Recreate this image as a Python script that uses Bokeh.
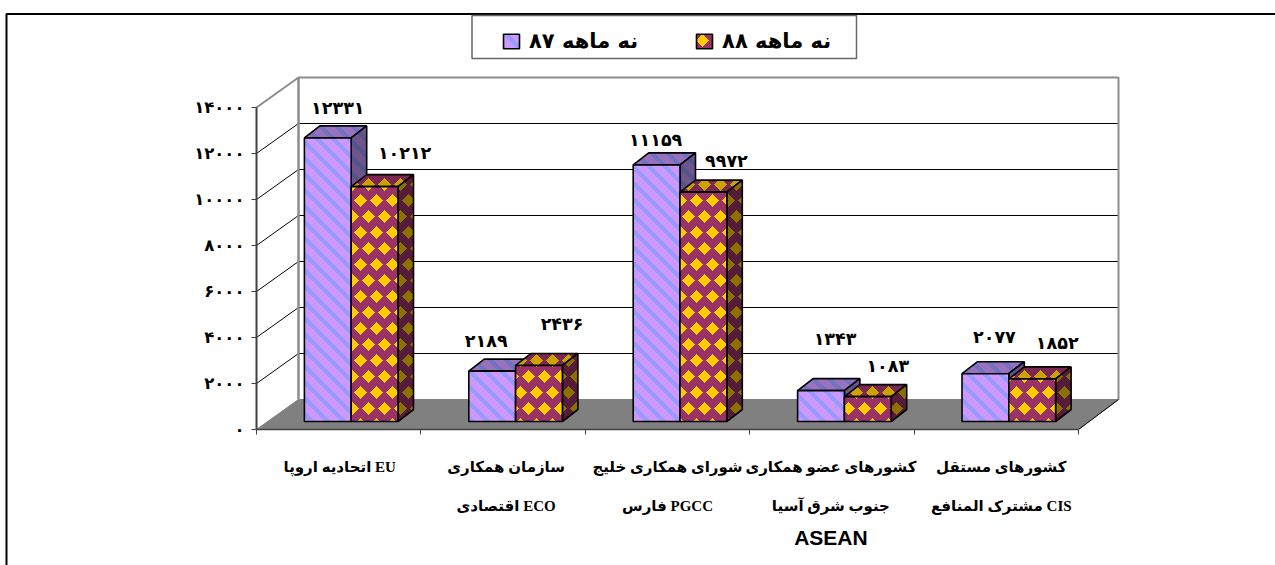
import base64, struct, zlib
from bokeh.core.properties import value
from bokeh.embed import file_html
from bokeh.models import (ColumnDataSource, FixedTicker, ImageURLTexture, Legend,
                          LegendItem, Range1d)
from bokeh.plotting import figure
from bokeh.resources import INLINE

# ---- data ----
categories = [
    ["\u200fاتحادیه اروپا EU"],
    ["\u200fسازمان همکاری", "\u200fاقتصادی ECO"],
    ["\u200fشورای همکاری خلیج", "\u200fفارس PGCC"],
    ["\u200fکشورهای عضو همکاری", "\u200fجنوب شرق آسیا", "ASEAN"],
    ["\u200fکشورهای مستقل", "\u200fمشترک المنافع CIS"],
]
series_87 = [12331, 2189, 11159, 1343, 2077]
series_88 = [10212, 2436, 9972, 1083, 1852]
series_names = ["\u200fنه ماهه ۸۷", "\u200fنه ماهه ۸۸"]
y_ticks = [0, 2000, 4000, 6000, 8000, 10000, 12000, 14000]
y_max = 14000

# ---- layout constants (px on the page) ----
W, H = 1275, 565
X0, CAT = 256.0, 164.4          # category axis origin and step
Y0, UNIT = 429.0, 0.023         # value axis origin and px per unit
WALL_DX, WALL_DX_R, WALL_DY = 42.0, 40.0, 30.0   # depth of the chart box
BAR_DX, BAR_DY = 15.5, 12.0     # depth of a bar
BAR_W, BAR_SHIFT, BAR_LIFT = 46.8, 12.5, 8.0   # width, x shift, base lift
LABEL_NUDGE_87 = [(10, 30), (-6, 30), (-1, 25), (14, 52), (9, 37)]
LABEL_NUDGE_88 = [(30, 34), (23, 41), (23, 31), (20, 31), (25, 36)]
CAT_NUDGE = [3, 5, 2, 1, 7]

to_x = lambda px: (px - X0) / CAT
to_y = lambda py: (Y0 - py) / UNIT
dxc = lambda px: px / CAT
dyv = lambda px: px / UNIT


def png_uri(w, h, pixel):
    raw = b""
    for j in range(h):
        raw += b"\0" + bytes(c for i in range(w) for c in pixel(i, j))
    def chunk(t, d):
        return struct.pack(">I", len(d)) + t + d + struct.pack(">I", zlib.crc32(t + d))
    png = (b"\x89PNG\r\n\x1a\n" + chunk(b"IHDR", struct.pack(">IIBBBBB", w, h, 8, 2, 0, 0, 0))
           + chunk(b"IDAT", zlib.compress(raw)) + chunk(b"IEND", b""))
    return "data:image/png;base64," + base64.b64encode(png).decode()


def shade(c, f):
    return tuple(int(v * f) for v in c)


def stripes(i, j, f=1.0):
    return shade((153, 153, 255) if (i - j) % 16 < 6 else (204, 153, 255), f)


def diamonds(i, j, f=1.0):
    d1 = abs(i - 8) + abs(j - 8)            # diamond on rows of first half
    d2 = min(i, 16 - i) + abs(j - 24)       # offset diamond on second half
    return shade((255, 204, 0) if min(d1, d2) <= 6 else (153, 51, 102), f)


def tex(fn, h, f=1.0):
    return ImageURLTexture(url=png_uri(16, h, lambda i, j: fn(i, j, f)))


TEX = {"ps": tex(stripes, 16), "pst": tex(stripes, 16, 0.75), "pss": tex(stripes, 16, 0.55),
       "pd": tex(diamonds, 32), "pdt": tex(diamonds, 32, 0.8), "pds": tex(diamonds, 32, 0.55)}

FONT = "Liberation Serif, DejaVu Sans"

p = figure(width=W, height=H, x_range=Range1d(to_x(0), to_x(W)), y_range=Range1d(to_y(H), to_y(0)),
           min_border=0, toolbar_location=None, output_backend="svg", outline_line_color=None,
           background_fill_color="white", border_fill_color="white")
p.xgrid.visible = False
p.ygrid.visible = False

# outer frame
p.line([to_x(6), to_x(6), to_x(W)], [to_y(H), to_y(13.5), to_y(13.5)], line_color="#000000", line_width=2)

# back wall, floor, side wall
bx0, bx1 = 0 + dxc(WALL_DX), 5 + dxc(WALL_DX_R)
lift = dyv(WALL_DY)
p.patch([0, 5, bx1, bx0], [0, 0, lift, lift], fill_color="#808080", line_color="#808080")
for t in y_ticks[1:-1]:
    p.line([0, bx0, bx1], [t, t + lift, t + lift], line_color="#000000", line_width=1)
p.line([0, bx0, bx1, bx1], [y_max, y_max + lift, y_max + lift, lift], line_color="#8c8c8c", line_width=2)
p.line([bx0, bx0], [lift, y_max + lift], line_color="#8c8c8c", line_width=2.5)
p.line([bx1, 5], [lift, 0], line_color="#000000", line_width=1)

# axes through the library's own ticks
p.yaxis.fixed_location = 0
p.yaxis.bounds = (0, y_max)
p.yaxis.ticker = FixedTicker(ticks=y_ticks)
p.yaxis.major_label_overrides = {
    t: "".join("۰۱۲۳۴۵۶۷۸۹"[int(c)] for c in str(t)) for t in y_ticks}
p.yaxis.major_label_text_font = "DejaVu Sans"
p.yaxis.major_label_text_font_style = "bold"
p.yaxis.major_label_text_font_size = "16.5px"
p.yaxis.major_label_text_color = "#000000"
p.yaxis.axis_line_color = "#404040"
p.yaxis.axis_line_width = 2
p.yaxis.major_tick_line_color = "#404040"
p.yaxis.major_tick_out = 5
p.yaxis.major_tick_in = 0
p.yaxis.minor_tick_line_color = None
p.yaxis.major_label_standoff = 7

p.xaxis.fixed_location = 0
p.xaxis.bounds = (0, 5)
p.xaxis.ticker = FixedTicker(ticks=list(range(6)))
p.xaxis.major_label_text_font_size = "0px"
p.xaxis.major_label_text_color = None
p.xaxis.axis_line_color = "#404040"
p.xaxis.axis_line_width = 1.5
p.xaxis.major_tick_line_color = "#404040"
p.xaxis.major_tick_out = 5
p.xaxis.major_tick_in = 0
p.xaxis.minor_tick_line_color = None

# 3-D bars
base = dyv(BAR_LIFT)
W_C = dxc(BAR_W)
DXC, DYV = dxc(BAR_DX), dyv(BAR_DY)
renderers = []
labels = {"x": [], "y": [], "t": []}
for s, (vals, face, top, side, nudge) in enumerate([
        (series_87, "ps", "pst", "pss", LABEL_NUDGE_87),
        (series_88, "pd", "pdt", "pds", LABEL_NUDGE_88)]):
    rend = None
    for c, v in enumerate(vals):
        xc = c + 0.5 + dxc(BAR_SHIFT)
        left = xc - W_C + s * W_C
        right = left + W_C
        y0, y1 = base, base + v
        sty = dict(line_color="#000000", line_width=1.6, hatch_extra=TEX, hatch_alpha=1.0)
        p.patch([left + DXC, right + DXC, right, left], [y1 + DYV, y1 + DYV, y1, y1],
                fill_color="#996699", hatch_pattern=top, **sty)
        p.patch([right, right + DXC, right + DXC, right], [y0, y0 + DYV, y1 + DYV, y1],
                fill_color="#664477", hatch_pattern=side, **sty)
        src = ColumnDataSource(dict(l=[left], r=[right], b=[y0], t=[y1]))
        r = p.quad(left="l", right="r", bottom="b", top="t", source=src, fill_color="#cc99ff",
                   hatch_pattern=value(face), **sty)
        rend = rend or r
        dx, dy = nudge[c]
        labels["x"].append((left + right) / 2 + dxc(dx))
        labels["y"].append(y1 + dyv(dy))
        labels["t"].append("".join("۰۱۲۳۴۵۶۷۸۹"[int(ch)] for ch in str(v)))
    renderers.append(rend)

p.text("x", "y", text="t", source=ColumnDataSource(labels), text_align="center", text_baseline="middle",
       text_font=value("DejaVu Sans"), text_font_style="bold", text_font_size="17.5px", text_color="#000000")

# category labels
cx, cy, ct, cf, cs = [], [], [], [], []
line_y = [466, 505, 537]
for c, lines in enumerate(categories):
    for k, t in enumerate(lines):
        cx.append(c + 0.5 - dxc(2) + dxc(CAT_NUDGE[c]))
        cy.append(to_y(line_y[k]))
        ct.append(t)
        cf.append("Liberation Sans" if t == "ASEAN" else FONT)
        cs.append("21px" if t == "ASEAN" else "15px")
p.text("x", "y", text="t", source=ColumnDataSource(dict(x=cx, y=cy, t=ct, f=cf, s=cs)), text_align="center",
       text_baseline="middle", text_font="f", text_font_style="bold", text_font_size="s", text_color="#000000")

# legend box and legend
p.quad(left=[to_x(471.5)], right=[to_x(856)], bottom=[to_y(58)], top=[to_y(15)],
       fill_color="white", line_color="#666666", line_width=1.5)
legend = Legend(items=[LegendItem(label=value(n), renderers=[r]) for n, r in zip(series_names, renderers)],
                orientation="horizontal", location=(501, H - 53), glyph_width=20, glyph_height=18,
                spacing=56, padding=0, margin=0, label_standoff=8,
                border_line_color=None, background_fill_alpha=0,
                label_text_font="DejaVu Sans", label_text_font_style="bold", label_text_font_size="21px",
                label_text_color="#000000")
p.add_layout(legend, "center")

open("out.html", "w").write(file_html(p, INLINE))
